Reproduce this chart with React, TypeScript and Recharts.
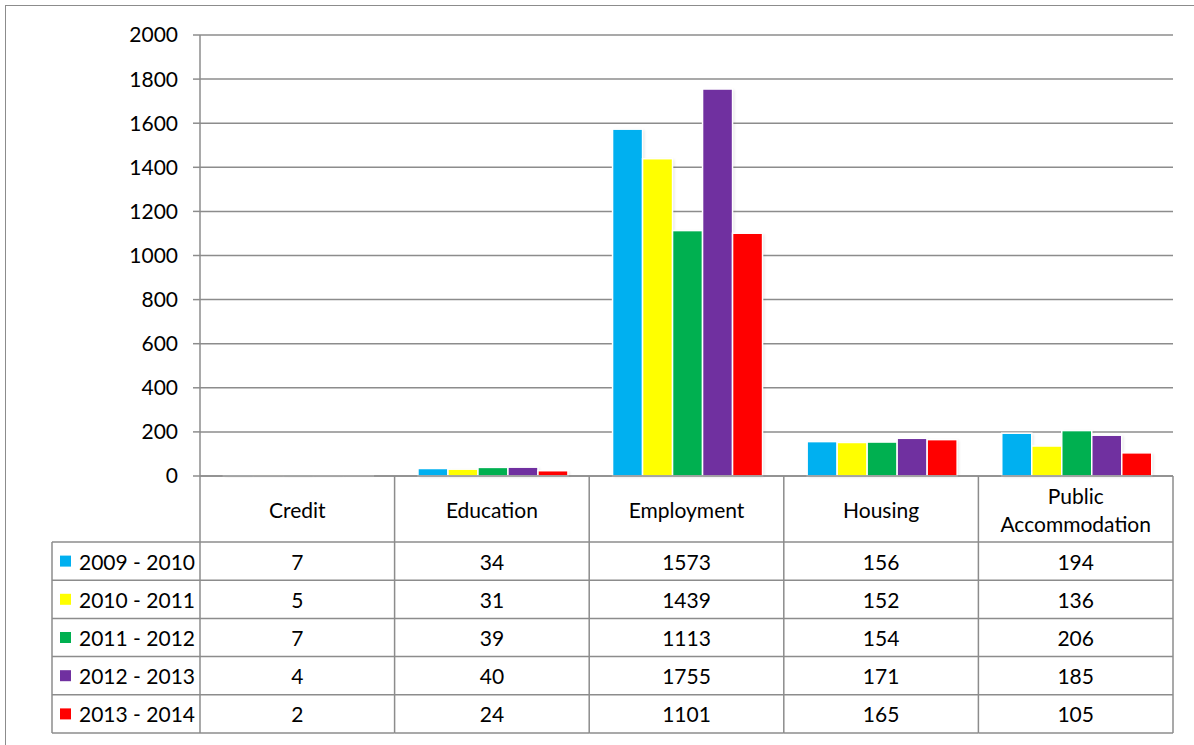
import { BarChart, Bar, XAxis, YAxis, CartesianGrid } from 'recharts';

const categories = ['Credit', 'Education', 'Employment', 'Housing', 'Public Accommodation'];
const seriesNames = ['2009 - 2010', '2010 - 2011', '2011 - 2012', '2012 - 2013', '2013 - 2014'];
const s2009 = [7, 34, 1573, 156, 194];
const s2010 = [5, 31, 1439, 152, 136];
const s2011 = [7, 39, 1113, 154, 206];
const s2012 = [4, 40, 1755, 171, 185];
const s2013 = [2, 24, 1101, 165, 105];
const yTicks = [0, 200, 400, 600, 800, 1000, 1200, 1400, 1600, 1800, 2000];

const seriesValues = [s2009, s2010, s2011, s2012, s2013];
const colors = ['#00B0F0', '#FFFF00', '#00B050', '#7030A0', '#FF0000'];
const keys = ['a', 'b', 'c', 'd', 'e'];

const data = categories.map((cat, i) => {
  const row: Record<string, string | number> = { cat };
  keys.forEach((k, j) => (row[k] = seriesValues[j][i]));
  return row;
});

// layout
const W = 1194;
const H = 745;
const PLOT_LEFT = 200;
const PLOT_RIGHT = 1173;
const PLOT_TOP = 35;
const PLOT_BOTTOM = 476;
const HEADER_BOTTOM = 542;
const ROW_H = 38.2;
const LEGEND_LEFT = 52;
const XAXIS_H = 262;
const LINE = '#8c8c8c';
const FONT = 'Lato, "Open Sans", sans-serif';
const FS = 21;

const bandW = (PLOT_RIGHT - PLOT_LEFT) / categories.length;
const rowY = (r: number) => HEADER_BOTTOM + r * ROW_H;

function TableColumn(props: any) {
  const { x, payload, index } = props;
  const left = x - bandW / 2;
  const right = x + bandW / 2;
  const label: string = payload.value;
  const lines = label.length > 14 ? label.split(' ') : [label];
  const headerMid = (PLOT_BOTTOM + HEADER_BOTTOM) / 2;
  const bottom = rowY(seriesNames.length);

  return (
    <g>
      {index === 0 && (
        <g>
          <line x1={left} x2={left} y1={PLOT_BOTTOM} y2={bottom} stroke={LINE} strokeWidth={1.5} />
          <line x1={LEGEND_LEFT} x2={LEGEND_LEFT} y1={HEADER_BOTTOM} y2={bottom} stroke={LINE} strokeWidth={1.5} />
          {seriesNames.map((name, r) => (
            <g key={name}>
              <line x1={LEGEND_LEFT} x2={left} y1={rowY(r)} y2={rowY(r)} stroke={LINE} strokeWidth={1.5} />
              <rect x={60} y={rowY(r) + ROW_H / 2 - 5.5} width={11} height={11} fill={colors[r]} />
              <text x={79} y={rowY(r) + ROW_H / 2} dominantBaseline="central" fontSize={FS} fontFamily={FONT} fill="#000">
                {name}
              </text>
            </g>
          ))}
          <line x1={LEGEND_LEFT} x2={left} y1={bottom} y2={bottom} stroke={LINE} strokeWidth={1.5} />
        </g>
      )}
      <line x1={right} x2={right} y1={PLOT_BOTTOM} y2={bottom} stroke={LINE} strokeWidth={1.5} />
      {seriesNames.map((_, r) => (
        <line key={r} x1={left} x2={right} y1={rowY(r)} y2={rowY(r)} stroke={LINE} strokeWidth={1.5} />
      ))}
      <line x1={left} x2={right} y1={bottom} y2={bottom} stroke={LINE} strokeWidth={1.5} />
      <text x={x} textAnchor="middle" fontSize={FS} fontFamily={FONT} fill="#000">
        {lines.map((ln, i) => (
          <tspan key={ln} x={x} y={headerMid + (i - (lines.length - 1) / 2) * 28} dominantBaseline="central">
            {ln}
          </tspan>
        ))}
      </text>
      {seriesValues.map((vals, r) => (
        <text
          key={r}
          x={x}
          y={rowY(r) + ROW_H / 2}
          textAnchor="middle"
          dominantBaseline="central"
          fontSize={FS}
          fontFamily={FONT}
          fill="#000"
        >
          {vals[index]}
        </text>
      ))}
    </g>
  );
}

function ShadowBar(props: any) {
  const { x, y, width, height, fill } = props;
  if (height <= 0) return null;
  return (
    <g>
      <rect x={x + 1.5} y={y + 1} width={width} height={height} fill="#000" opacity={0.12} filter="url(#barShadow)" />
      <rect x={x} y={y} width={width} height={height} fill={fill} stroke="#fff" strokeWidth={1.5} />
    </g>
  );
}

export default function App() {
  return (
    <div
      style={{
        position: 'absolute',
        left: 0,
        top: 0,
        width: W,
        height: H,
        overflow: 'hidden',
        background: '#fff',
        fontFamily: FONT,
      }}
    >
      <div
        style={{
          position: 'absolute',
          left: 5,
          top: 5,
          width: W,
          height: H,
          borderTop: `1.5px solid ${LINE}`,
          borderLeft: `1.5px solid ${LINE}`,
          boxSizing: 'border-box',
        }}
      />
      <div style={{ position: 'absolute', left: 0, top: 0 }}>
        <BarChart
          width={W}
          height={H}
          data={data}
          margin={{ top: PLOT_TOP, right: W - PLOT_RIGHT, left: 0, bottom: H - PLOT_BOTTOM - XAXIS_H }}
          barCategoryGap="12%"
          barGap={0}
        >
          <defs>
            <filter id="barShadow" x="-20%" y="-20%" width="140%" height="140%">
              <feGaussianBlur stdDeviation="1.5" />
            </filter>
          </defs>
          <CartesianGrid horizontal vertical={false} stroke={LINE} strokeWidth={1.5} />
          <XAxis
            dataKey="cat"
            interval={0}
            height={XAXIS_H}
            axisLine={{ stroke: LINE, strokeWidth: 1.5 }}
            tickLine={false}
            tick={TableColumn}
          />
          <YAxis
            width={PLOT_LEFT}
            domain={[0, 2000]}
            ticks={yTicks}
            interval={0}
            axisLine={{ stroke: LINE, strokeWidth: 1.5 }}
            tickLine={{ stroke: LINE, strokeWidth: 1.5 }}
            tickSize={7}
            tickMargin={15}
            tick={{ fontSize: FS, fontFamily: FONT, fill: '#000' }}
          />
          {keys.map((k, i) => (
            <Bar key={k} dataKey={k} name={seriesNames[i]} fill={colors[i]} shape={ShadowBar} isAnimationActive={false} />
          ))}
        </BarChart>
      </div>
    </div>
  );
}
